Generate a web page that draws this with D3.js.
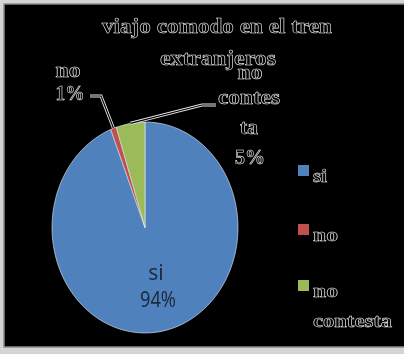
<!DOCTYPE html>
<html>
<head>
<meta charset="utf-8">
<script src="https://cdn.jsdelivr.net/npm/d3@7"></script>
<style>
  html, body { margin: 0; padding: 0; background: #d9d9d9; }
  svg { display: block; }
</style>
</head>
<body>
<svg id="chart" width="404" height="354"></svg>
<script>
// Survey answers: "viajo comodo en el tren" (foreign travellers)
const categories = ["si", "no", "no contesta"];
const shares = [94, 1, 5];
const colors = ["#4F81BD", "#C0504D", "#9BBB59"];
const titleLines = ["viajo comodo en el tren", "extranjeros"];
const legendLines = [["si"], ["no"], ["no", "contesta"]];

const svg = d3.select("#chart");
const W = 404, H = 354;

// grayscale text rasterisation (no colour fringes)
const defs = svg.append("defs");
defs.append("filter").attr("id", "flat")
  .attr("x", "-5%").attr("y", "-5%").attr("width", "110%").attr("height", "110%")
  .append("feOffset").attr("dx", 0).attr("dy", 0);

// frame
svg.append("rect").attr("x", 0).attr("y", 0).attr("width", W).attr("height", H).attr("fill", "#d4d4d4");
svg.append("rect").attr("x", 4).attr("y", 4).attr("width", W).attr("height", 343)
  .attr("fill", "#000").attr("stroke", "#8a8a8a").attr("stroke-width", 1.5);

// outlined (hollow) serif text
const outline = sel => sel.attr("fill", "#000").attr("stroke", "#e8e8e8")
  .attr("stroke-width", 0.6).attr("font-weight", "bold")
  .attr("font-family", "'Liberation Serif', 'DejaVu Serif', serif");

// pie (slightly taller than wide)
const cx = 145, cy = 227.5, rx = 93, ry = 105.5;
const pie = d3.pie().sort(null).value(d => d)(shares);
const arc = d3.arc().innerRadius(0).outerRadius(rx);
const gPie = svg.append("g").attr("transform", `translate(${cx},${cy}) scale(1,${ry / rx})`);
gPie.selectAll("path").data(pie).join("path")
  .attr("d", arc)
  .attr("fill", (d, i) => colors[i])
  .attr("stroke", "#e8eef7").attr("stroke-width", 0.6)
  .attr("vector-effect", "non-scaling-stroke");

// point on the rim at a slice's mid angle
function rimPoint(d) {
  const a = (d.startAngle + d.endAngle) / 2;
  return [cx + rx * Math.sin(a), cy - ry * Math.cos(a)];
}

// leader lines drawn as hollow strokes
function leader(points) {
  const line = d3.line();
  svg.append("path").attr("d", line(points)).attr("fill", "none")
    .attr("stroke", "#e8e8e8").attr("stroke-width", 3);
  svg.append("path").attr("d", line(points)).attr("fill", "none")
    .attr("stroke", "#000").attr("stroke-width", 1.2);
}
leader([[90, 96], [101, 96], rimPoint(pie[1])]);
leader([[216, 105], [202, 105], rimPoint(pie[2])]);

// legend swatches
const legY = [171, 230, 286];
svg.append("g").selectAll("rect").data(categories).join("rect")
  .attr("x", 298).attr("y", (c, i) => legY[i] - 6).attr("width", 11).attr("height", 11)
  .attr("fill", (c, i) => colors[i]);

const textLayer = svg.append("g").attr("filter", "url(#flat)");

// title
[[titleLines[0], 217, 33, 230], [titleLines[1], 218, 65, 116]].forEach(([t, x, y, len]) => {
  textLayer.append("text").text(t).attr("x", x).attr("y", y).attr("text-anchor", "middle")
    .attr("font-size", 22)
    .attr("textLength", len).attr("lengthAdjust", "spacingAndGlyphs")
    .call(outline);
});

// inside label for "si"
const siLabel = textLayer.append("text").attr("text-anchor", "middle")
  .attr("font-family", "'Noto Sans', 'DejaVu Sans', sans-serif").attr("font-size", 21)
  .attr("fill", "#1c2a40");
siLabel.append("tspan").attr("x", 156).attr("y", 280).text(categories[0]);
siLabel.append("tspan").attr("x", 158).attr("y", 307).attr("textLength", 36)
  .attr("lengthAdjust", "spacingAndGlyphs").text(shares[0] + "%");

// outside labels
function outsideLabel(lines) {
  lines.forEach(([t, x, y, len]) => {
    textLayer.append("text").text(t).attr("x", x).attr("y", y).attr("text-anchor", "middle")
      .attr("font-size", 20)
      .attr("textLength", len).attr("lengthAdjust", "spacingAndGlyphs")
      .call(outline);
  });
}
outsideLabel([[categories[1], 68, 77, 25], [shares[1] + "%", 70, 100, 29]]);
outsideLabel([["no", 250, 79, 25], ["contes", 249, 104, 62], ["ta", 249, 134, 18], [shares[2] + "%", 250, 164, 30]]);

// legend labels
categories.forEach((c, i) => {
  legendLines[i].forEach((t, j) => {
    textLayer.append("text").text(t).attr("x", 313).attr("y", legY[i] + 11 + j * 30)
      .attr("font-size", 19)
      .attr("textLength", t.length > 3 ? 79 : (t === "si" ? 14 : 25))
      .attr("lengthAdjust", "spacingAndGlyphs")
      .call(outline);
  });
});
</script>
</body>
</html>
